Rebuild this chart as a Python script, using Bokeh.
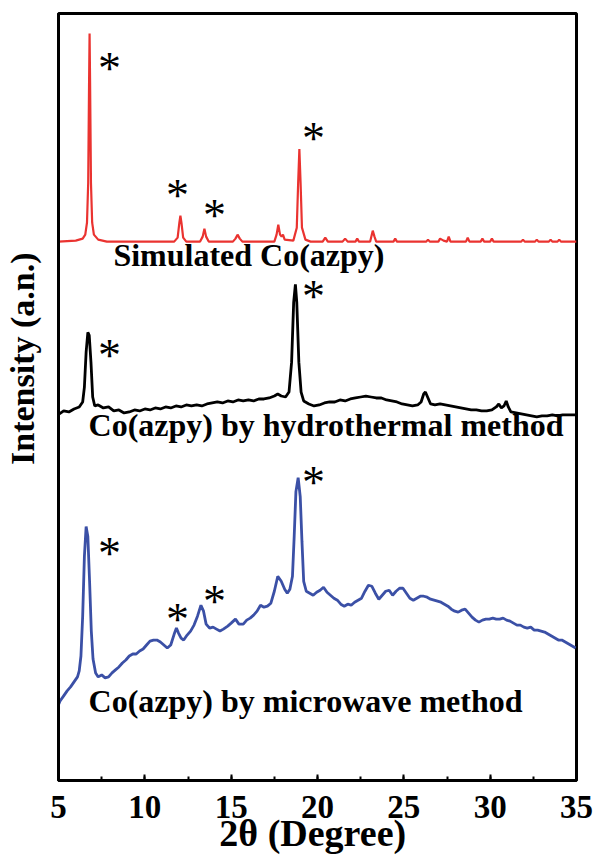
from bokeh.plotting import figure
from bokeh.models import Range1d, SingleIntervalTicker, FixedTicker
from bokeh.core.properties import value
from bokeh.embed import file_html
from bokeh.resources import INLINE

# ---------------- data (2theta in degrees, intensity in a.u., stacked with offsets) ----------------
sim_x = [5.0, 6.0, 6.4, 6.55, 6.65, 6.72, 6.77, 6.8, 6.83, 6.88, 6.95, 7.05, 7.3, 7.8,
         11.7, 11.9, 12.0, 12.06, 12.12, 12.22, 12.4, 13.2, 13.35, 13.45, 13.55, 13.7,
         15.1, 15.25, 15.37, 15.5, 15.65, 17.5, 17.63, 17.73, 17.83, 17.92, 18.0, 18.1,
         18.6, 18.8, 18.88, 18.95, 19.02, 19.1, 19.3, 19.6, 20.3, 20.45, 20.6, 21.45, 21.6,
         21.75, 22.2, 22.3, 22.4, 23.05, 23.2, 23.3, 23.4, 24.4, 24.5, 24.6, 26.3, 26.4,
         26.5, 27.0, 27.1, 27.3, 27.5, 27.6, 27.7, 28.6, 28.7, 28.8, 29.45, 29.55, 29.65,
         30.0, 30.1, 30.2, 31.8, 31.9, 32.0, 32.6, 32.7, 32.8, 33.4, 33.5, 33.6, 33.9,
         34.0, 34.1, 34.5, 35.0]
sim_y = [541, 542, 544, 548, 560, 600, 700, 750, 700, 600, 560, 548, 543, 541,
         541, 545, 560, 567, 560, 545, 541, 541, 546, 554, 546, 541,
         541, 544, 548, 544, 541, 541, 548, 558, 548, 546, 548, 543,
         542, 555, 600, 634, 600, 555, 543, 541, 541, 545, 541, 541, 544,
         541, 541, 544, 541, 541, 552, 546, 541, 541, 544, 541, 541, 543,
         541, 541, 544, 542, 541, 546, 541, 541, 545, 541, 541, 544, 541,
         541, 544, 541, 541, 543, 541, 541, 543, 541, 541, 543, 541, 541,
         543, 541, 541, 541]

hyd_x = [5.05, 5.3, 5.6, 5.9, 6.2, 6.4, 6.5, 6.6, 6.7, 6.78, 6.88, 6.98, 7.1, 7.3, 7.6,
         7.9, 8.2, 8.5, 8.8, 9.1, 9.4, 9.7, 10.0, 10.3, 10.6, 10.9, 11.2, 11.5, 11.8,
         12.1, 12.4, 12.7, 13.0, 13.3, 13.6, 13.9, 14.2, 14.5, 14.8, 15.1, 15.4, 15.7,
         16.0, 16.3, 16.6, 16.9, 17.2, 17.5, 17.7, 17.9, 18.15, 18.35, 18.5, 18.62, 18.72,
         18.8, 18.92, 19.05, 19.2, 19.5, 19.8, 20.1, 20.4, 20.7, 21.0, 21.3, 21.6, 21.9,
         22.2, 22.5, 22.8, 23.1, 23.4, 23.7, 24.0, 24.3, 24.6, 24.9, 25.2, 25.5, 25.8,
         26.0, 26.15, 26.25, 26.4, 26.55, 26.8, 27.1, 27.4, 27.7, 28.0, 28.3, 28.6, 28.9,
         29.2, 29.5, 29.8, 30.1, 30.35, 30.5, 30.65, 30.8, 30.93, 31.05, 31.2, 31.5, 31.8,
         32.1, 32.4, 32.7, 33.0, 33.3, 33.6, 33.9, 34.2, 34.5, 34.95]
hyd_y = [368, 371, 370, 373, 375, 380, 395, 430, 450, 447, 420, 385, 376, 377, 374,
         375, 371, 372, 369, 370, 372, 371, 373, 372, 374, 373, 375, 374, 376,
         375, 377, 376, 377, 376, 378, 379, 380, 379, 381, 380, 382, 381,
         382, 381, 383, 383, 384, 386, 388, 386, 385, 390, 420, 480, 498,
         480, 420, 390, 381, 378, 376, 377, 379, 380, 380, 382, 381, 383,
         384, 385, 386, 385, 384, 384, 382, 381, 380, 378, 377, 376, 377,
         380, 388, 390, 384, 378, 377, 378, 377, 376, 375, 374, 373, 372,
         372, 371, 371, 372, 375, 378, 374, 376, 381, 375, 370, 369, 368,
         367, 366, 365, 366, 366, 367, 366, 367, 367, 367]

mw_x = [5.0, 5.1, 5.3, 5.5, 5.7, 5.9, 6.1, 6.2, 6.3, 6.4, 6.5, 6.6, 6.7, 6.8, 6.9, 7.0,
        7.15, 7.3, 7.5, 7.7, 7.9, 8.1, 8.3, 8.5, 8.7, 8.9, 9.1, 9.3, 9.5, 9.7, 9.9, 10.1,
        10.3, 10.5, 10.7, 10.9, 11.1, 11.3, 11.5, 11.7, 11.83, 11.95, 12.1, 12.25, 12.45,
        12.65, 12.85, 13.05, 13.25, 13.4, 13.55, 13.75, 13.95, 14.15, 14.35, 14.55, 14.8,
        15.0, 15.25, 15.45, 15.7, 15.9, 16.1, 16.3, 16.5, 16.7, 16.9, 17.1, 17.3, 17.5,
        17.7, 17.9, 18.1, 18.25, 18.4, 18.55, 18.65, 18.75, 18.88, 19.0, 19.1, 19.2, 19.35,
        19.55, 19.75, 19.95, 20.15, 20.35, 20.55, 20.75, 20.95, 21.15, 21.35, 21.55, 21.75,
        21.95, 22.15, 22.35, 22.55, 22.75, 22.95, 23.15, 23.35, 23.55, 23.75, 23.95, 24.15,
        24.35, 24.55, 24.75, 24.95, 25.15, 25.35, 25.55, 25.75, 25.95, 26.15, 26.35, 26.55,
        26.75, 26.95, 27.15, 27.35, 27.55, 27.75, 27.95, 28.15, 28.35, 28.55, 28.75, 28.95,
        29.15, 29.35, 29.55, 29.75, 29.95, 30.15, 30.35, 30.55, 30.75, 30.95, 31.15, 31.35,
        31.55, 31.75, 31.95, 32.15, 32.35, 32.55, 32.75, 32.95, 33.15, 33.35, 33.55, 33.75,
        33.95, 34.15, 34.35, 34.55, 34.75, 34.95]
mw_y = [76, 80, 85, 90, 94, 99, 104, 110, 125, 165, 225, 255, 245, 200, 150, 122,
        108, 104, 106, 103, 104, 108, 111, 114, 118, 121, 125, 127, 127, 130, 132, 136,
        140, 141, 141, 139, 136, 133, 136, 147, 153, 148, 143, 141, 146,
        150, 156, 165, 176, 170, 157, 153, 154, 152, 150, 152, 155,
        158, 162, 157, 157, 161, 163, 166, 170, 176, 174, 175, 178, 190,
        205, 200, 192, 188, 192, 205, 245, 290, 304, 285, 240, 200, 190,
        188, 186, 189, 191, 194, 189, 186, 183, 181, 177, 175, 177,
        176, 179, 181, 183, 190, 196, 195, 188, 182, 186, 190, 191,
        186, 190, 193, 193, 188, 183, 181, 183, 185, 185, 184, 182,
        181, 180, 179, 177, 175, 172, 170, 169, 171, 172, 168, 164,
        161, 159, 161, 162, 162, 163, 162, 162, 163, 161, 160, 158,
        156, 156, 154, 153, 154, 151, 151, 150, 149, 147, 145, 143,
        141, 141, 139, 137, 135, 133]

# asterisks marking reflections
star_x = [7.95, 11.89, 14.03, 19.77, 7.95, 19.77, 7.95, 11.89, 14.03, 19.77]
star_y = [723, 595, 575, 653, 435, 494, 236, 170, 188, 307]

# curve labels
label_text = ["Simulated Co(azpy)", "Co(azpy) by hydrothermal method", "Co(azpy) by microwave method"]
label_x = [8.18, 6.74, 6.74]
label_y = [528, 357, 80]

x_ticks = [5, 10, 15, 20, 25, 30, 35]

# ---------------- figure ----------------
SERIF = "Liberation Serif"

p = figure(width=597, height=856, output_backend="svg", toolbar_location=None,
           x_range=Range1d(5, 35), y_range=Range1d(0, 770),
           min_border_left=58, min_border_right=21, min_border_top=13, min_border_bottom=0)
p.background_fill_color = "white"
p.border_fill_color = "white"
p.grid.visible = False
p.outline_line_color = "black"
p.outline_line_width = 3

p.line(sim_x, sim_y, line_color="#ea3330", line_width=2.2)
p.line(hyd_x, hyd_y, line_color="black", line_width=2.8)
p.line(mw_x, mw_y, line_color="#3b50a6", line_width=2.8)

p.text(star_x, star_y, text=["*"] * len(star_x), text_font=value(SERIF),
       text_font_size="46px", text_align="center", text_baseline="alphabetic",
       y_offset=8, text_color="black")

p.text(label_x, label_y, text=label_text, text_font=value(SERIF), text_font_style="bold",
       text_font_size="32px", text_align="left", text_baseline="alphabetic", text_color="black")

# x axis
xa = p.xaxis[0]
xa.ticker = SingleIntervalTicker(interval=5, num_minor_ticks=2)
xa.axis_line_width = 3
xa.major_tick_in = 6
xa.major_tick_out = 0
xa.major_tick_line_width = 2
xa.minor_tick_in = 4
xa.minor_tick_out = 0
xa.minor_tick_line_width = 2
xa.major_label_text_font = SERIF
xa.major_label_text_font_style = "bold"
xa.major_label_text_font_size = "33px"
xa.major_label_text_color = "black"
xa.major_label_standoff = 15
xa.axis_label = "2θ  (Degree)"
xa.axis_label_text_font = SERIF
xa.axis_label_text_font_style = "bold"
xa.axis_label_text_font_size = "38px"
xa.axis_label_text_color = "black"
xa.axis_label_standoff = -9

# y axis
ya = p.yaxis[0]
ya.ticker = FixedTicker(ticks=[])
ya.axis_line_width = 3
ya.major_tick_line_color = None
ya.minor_tick_line_color = None
ya.axis_label = "\u00a0" * 9 + "Intensity (a.n.)"
ya.axis_label_text_font = SERIF
ya.axis_label_text_font_style = "bold"
ya.axis_label_text_font_size = "34px"
ya.axis_label_text_color = "black"
ya.axis_label_standoff = 18

open("out.html", "w").write(file_html(p, INLINE))
